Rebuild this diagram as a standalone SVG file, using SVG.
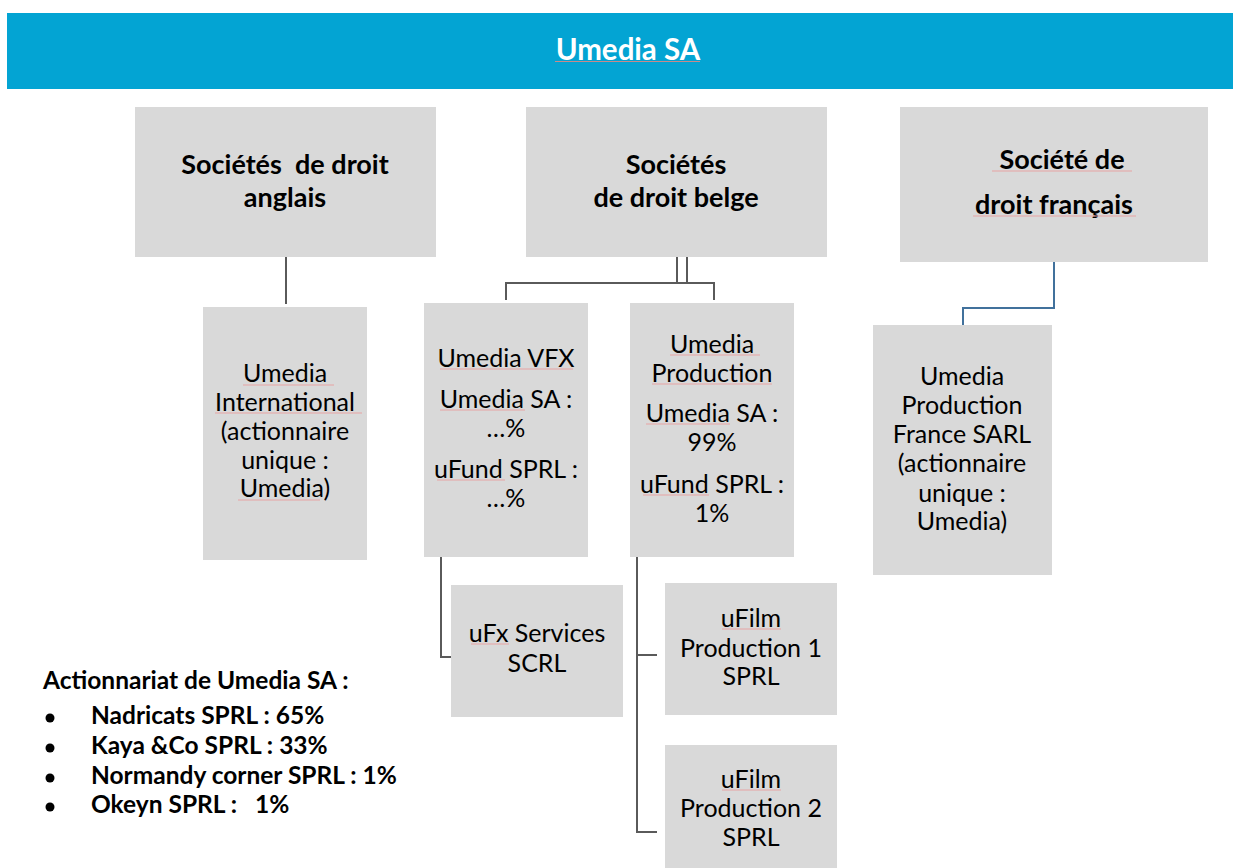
<svg xmlns="http://www.w3.org/2000/svg" width="1233" height="868" viewBox="0 0 1233 868">
  <style>
    .box { fill: #D9D9D9; }
    .hd { font-family: Lato, "Liberation Sans", sans-serif; font-weight: 700; font-size: 27px; fill: #000; text-anchor: middle; }
    .tx { font-family: Lato, "Liberation Sans", sans-serif; font-size: 25px; fill: #000; text-anchor: middle; }
    .lg { font-family: Lato, "Liberation Sans", sans-serif; font-weight: 700; font-size: 24.5px; fill: #000; }
    .ln { fill: none; stroke: #5A5A5A; stroke-width: 2; }
    .lnb { fill: none; stroke: #41719C; stroke-width: 2; }
    .sq { stroke: #E8A3A3; stroke-width: 1.2; }
  </style>

  <!-- title band -->
  <g id="title">
    <rect x="7" y="13" width="1226" height="76" fill="#03A4D3"/>
    <text x="628" y="60" font-family="Lato, 'Liberation Sans', sans-serif" font-weight="700" font-size="29.5" fill="#FFFFFF" text-anchor="middle">Umedia SA</text>
    <line x1="555" y1="61.5" x2="700" y2="61.5" stroke="#C98A8A" stroke-width="1.2"/>
  </g>

  <!-- connectors -->
  <g id="connectors">
    <path class="ln" d="M286 257 V304"/>
    <path class="ln" d="M677 257 V283 M687 257 V283 M506 300 V283 H714 V300"/>
    <path class="lnb" d="M1054 262 V308 H963 V325"/>
    <path class="ln" d="M441 557 V657 H451"/>
    <path class="ln" d="M637 557 V832 H657 M637 655 H657"/>
  </g>

  <g id="node-anglais">
    <rect class="box" x="135" y="107" width="301" height="150"/>
    <text class="hd" x="285" y="174" xml:space="preserve">Sociétés  de droit</text>
    <text class="hd" x="285" y="207">anglais</text>
  </g>

  <g id="node-belge">
    <rect class="box" x="526" y="107" width="301" height="150"/>
    <text class="hd" x="676" y="174">Sociétés</text>
    <text class="hd" x="676" y="207">de droit belge</text>
  </g>

  <g id="node-francais">
    <rect class="box" x="900" y="107" width="308" height="155"/>
    <text class="hd" x="1062" y="169">Société de</text>
    <text class="hd" x="1054" y="214">droit français</text>
    <line class="sq" x1="992" y1="171" x2="1132" y2="171"/>
    <line class="sq" x1="973" y1="216" x2="1136" y2="216"/>
  </g>

  <g id="node-international">
    <rect class="box" x="203" y="307" width="164" height="253"/>
    <text class="tx" x="285" y="382">Umedia</text>
    <text class="tx" x="285" y="411">International</text>
    <text class="tx" x="285" y="440">(actionnaire</text>
    <text class="tx" x="285" y="469">unique :</text>
    <text class="tx" x="285" y="497">Umedia)</text>
    <line class="sq" x1="243" y1="385" x2="334" y2="385"/>
    <line class="sq" x1="215" y1="413" x2="362" y2="413"/>
    <line class="sq" x1="238" y1="500" x2="320" y2="500"/>
  </g>

  <g id="node-vfx">
    <rect class="box" x="424" y="303" width="164" height="254"/>
    <text class="tx" x="506" y="367">Umedia VFX</text>
    <text class="tx" x="506" y="408">Umedia SA :</text>
    <text class="tx" x="506" y="437">…%</text>
    <text class="tx" x="506" y="478">uFund SPRL :</text>
    <text class="tx" x="506" y="507">…%</text>
    <line class="sq" x1="440" y1="369" x2="573" y2="369"/>
    <line class="sq" x1="440" y1="410" x2="525" y2="410"/>
    <line class="sq" x1="437" y1="480" x2="505" y2="480"/>
  </g>

  <g id="node-production">
    <rect class="box" x="630" y="303" width="164" height="254"/>
    <text class="tx" x="712" y="353">Umedia</text>
    <text class="tx" x="712" y="382">Production</text>
    <text class="tx" x="712" y="422">Umedia SA :</text>
    <text class="tx" x="712" y="451">99%</text>
    <text class="tx" x="712" y="493">uFund SPRL :</text>
    <text class="tx" x="712" y="522">1%</text>
    <line class="sq" x1="670" y1="355" x2="760" y2="355"/>
    <line class="sq" x1="652" y1="384" x2="772" y2="384"/>
    <line class="sq" x1="646" y1="424" x2="730" y2="424"/>
    <line class="sq" x1="643" y1="495" x2="709" y2="495"/>
  </g>

  <g id="node-france-sarl">
    <rect class="box" x="873" y="325" width="179" height="250"/>
    <text class="tx" x="962" y="385">Umedia</text>
    <text class="tx" x="962" y="414">Production</text>
    <text class="tx" x="962" y="443">France SARL</text>
    <text class="tx" x="962" y="472">(actionnaire</text>
    <text class="tx" x="962" y="502">unique :</text>
    <text class="tx" x="962" y="530">Umedia)</text>
  </g>

  <g id="node-ufx">
    <rect class="box" x="451" y="585" width="172" height="132"/>
    <text class="tx" x="537" y="642">uFx Services</text>
    <text class="tx" x="537" y="672">SCRL</text>
    <line class="sq" x1="471" y1="644" x2="509" y2="644"/>
  </g>

  <g id="node-ufilm1">
    <rect class="box" x="665" y="583" width="172" height="132"/>
    <text class="tx" x="751" y="627">uFilm</text>
    <text class="tx" x="751" y="657">Production 1</text>
    <text class="tx" x="751" y="685">SPRL</text>
    <line class="sq" x1="722" y1="629" x2="781" y2="629"/>
  </g>

  <g id="node-ufilm2">
    <rect class="box" x="665" y="745" width="172" height="123"/>
    <text class="tx" x="751" y="788">uFilm</text>
    <text class="tx" x="751" y="817">Production 2</text>
    <text class="tx" x="751" y="846">SPRL</text>
    <line class="sq" x1="722" y1="790" x2="781" y2="790"/>
  </g>

  <!-- shareholding list -->
  <g id="shareholders">
    <text class="lg" x="43" y="689">Actionnariat de Umedia SA :</text>
    <circle cx="50" cy="718" r="4.5"/>
    <text class="lg" x="91" y="724">Nadricats SPRL : 65%</text>
    <circle cx="50" cy="748" r="4.5"/>
    <text class="lg" x="91" y="754">Kaya &amp;Co SPRL : 33%</text>
    <circle cx="50" cy="778" r="4.5"/>
    <text class="lg" x="91" y="784">Normandy corner SPRL : 1%</text>
    <circle cx="50" cy="807" r="4.5"/>
    <text class="lg" x="91" y="813" xml:space="preserve">Okeyn SPRL :   1%</text>
  </g>
</svg>
